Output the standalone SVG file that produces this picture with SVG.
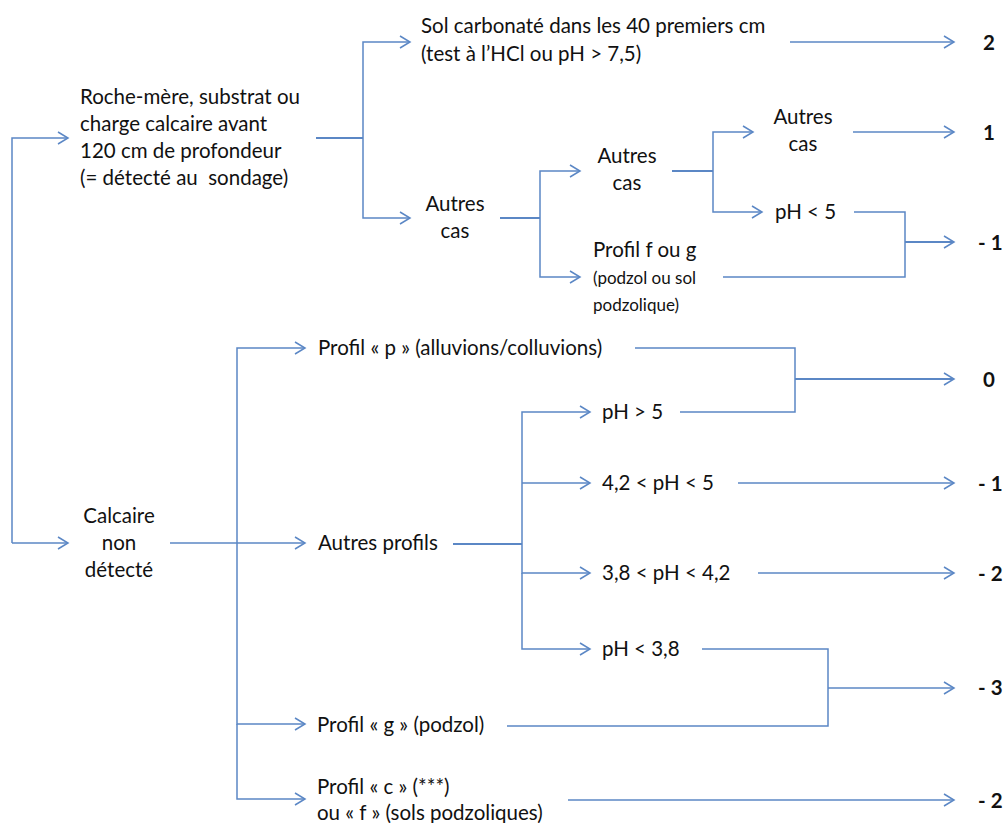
<svg xmlns="http://www.w3.org/2000/svg" width="1005" height="823" viewBox="0 0 1005 823">
<defs>
<marker id="ah" markerUnits="userSpaceOnUse" markerWidth="14" markerHeight="14" refX="11" refY="7" orient="auto">
<path d="M1,1 L11,7 L1,13" fill="none" stroke="#5B87C5" stroke-width="1.5"/>
</marker>
<style>
text{font-family:Lato,"Liberation Sans",sans-serif;font-size:20.5px;fill:#111;white-space:pre}
.s{font-size:17px}
.r{font-weight:bold;font-size:20.5px}
.c{text-anchor:middle}
.l{fill:none;stroke:#5B87C5;stroke-width:1.5}
.t{stroke-width:2.2}
.a{marker-end:url(#ah)}
</style>
</defs>
<rect width="1005" height="823" fill="#fff"/>
<g id="connectors">
<path class="l a" d="M12,543 V138 H68"/>
<path class="l a" d="M12,543 H68"/>
<path class="l t" d="M316,138 H363"/>
<path class="l a" d="M363,138 V42 H410"/>
<path class="l a" d="M363,138 V218 H410"/>
<path class="l a" d="M790,42 H954"/>
<path class="l t" d="M500,218 H540"/>
<path class="l a" d="M540,218 V171 H580"/>
<path class="l a" d="M540,218 V277 H580"/>
<path class="l t" d="M672,171 H713"/>
<path class="l a" d="M713,171 V132 H753"/>
<path class="l a" d="M713,171 V212 H762"/>
<path class="l a" d="M853,132 H954"/>
<path class="l" d="M854,212 H905 V277 H723"/>
<path class="l a t" d="M905,242 H954"/>
<path class="l" d="M170,543 H237"/>
<path class="l a" d="M237,543 H305"/>
<path class="l a" d="M237,543 V348 H305"/>
<path class="l a" d="M237,543 V724 H305"/>
<path class="l a" d="M237,724 V799 H305"/>
<path class="l" d="M635,348 H795 V412 H680"/>
<path class="l a t" d="M795,379 H954"/>
<path class="l t" d="M453,544 H522"/>
<path class="l a" d="M522,544 V412 H590"/>
<path class="l a" d="M522,483 H590"/>
<path class="l a" d="M522,544 V573 H590"/>
<path class="l a" d="M522,573 V649 H590"/>
<path class="l a" d="M738,483 H954"/>
<path class="l a" d="M758,573 H954"/>
<path class="l" d="M702,649 H828 V726 H507"/>
<path class="l a" d="M828,688 H954"/>
<path class="l a" d="M568,800 H954"/>
</g>
<g id="n-roche">
<text x="80" y="104">Roche-mère, substrat ou</text>
<text x="80" y="131">charge calcaire avant</text>
<text x="80" y="158">120 cm de profondeur</text>
<text x="80" y="185" xml:space="preserve">(= détecté au  sondage)</text>
</g>
<g id="n-solcarb">
<text x="421" y="33">Sol carbonaté dans les 40 premiers cm</text>
<text x="421" y="61">(test à l’HCl ou pH &gt; 7,5)</text>
</g>
<g id="n-autres1"><text class="c" x="455" y="211">Autres</text><text class="c" x="455" y="238">cas</text></g>
<g id="n-autres2"><text class="c" x="627" y="163">Autres</text><text class="c" x="627" y="190">cas</text></g>
<g id="n-autres3"><text class="c" x="803" y="124">Autres</text><text class="c" x="803" y="151">cas</text></g>
<g id="n-ph5"><text x="775" y="219">pH &lt; 5</text></g>
<g id="n-profilfg">
<text x="593" y="257">Profil f ou g</text>
<text class="s" x="593" y="284">(podzol ou sol</text>
<text class="s" x="593" y="311">podzolique)</text>
</g>
<g id="n-calcaire">
<text class="c" x="119" y="523">Calcaire</text>
<text class="c" x="119" y="550">non</text>
<text class="c" x="119" y="577">détecté</text>
</g>
<g id="n-profilp"><text x="318" y="355">Profil « p » (alluvions/colluvions)</text></g>
<g id="n-autresprofils"><text x="318" y="550">Autres profils</text></g>
<g id="n-phgt5"><text x="602" y="419">pH &gt; 5</text></g>
<g id="n-ph42"><text x="602" y="490">4,2 &lt; pH &lt; 5</text></g>
<g id="n-ph38"><text x="602" y="580">3,8 &lt; pH &lt; 4,2</text></g>
<g id="n-phlt38"><text x="602" y="656">pH &lt; 3,8</text></g>
<g id="n-profilg"><text x="317" y="732">Profil « g » (podzol)</text></g>
<g id="n-profilc">
<text x="317" y="794">Profil « c » (***)</text>
<text x="317" y="820">ou « f » (sols podzoliques)</text>
</g>
<g id="results">
<text class="r" x="983" y="50">2</text>
<text class="r" x="983" y="140">1</text>
<text class="r" x="978" y="250">- 1</text>
<text class="r" x="983" y="387">0</text>
<text class="r" x="978" y="491">- 1</text>
<text class="r" x="978" y="581">- 2</text>
<text class="r" x="978" y="695">- 3</text>
<text class="r" x="978" y="808">- 2</text>
</g>
</svg>
